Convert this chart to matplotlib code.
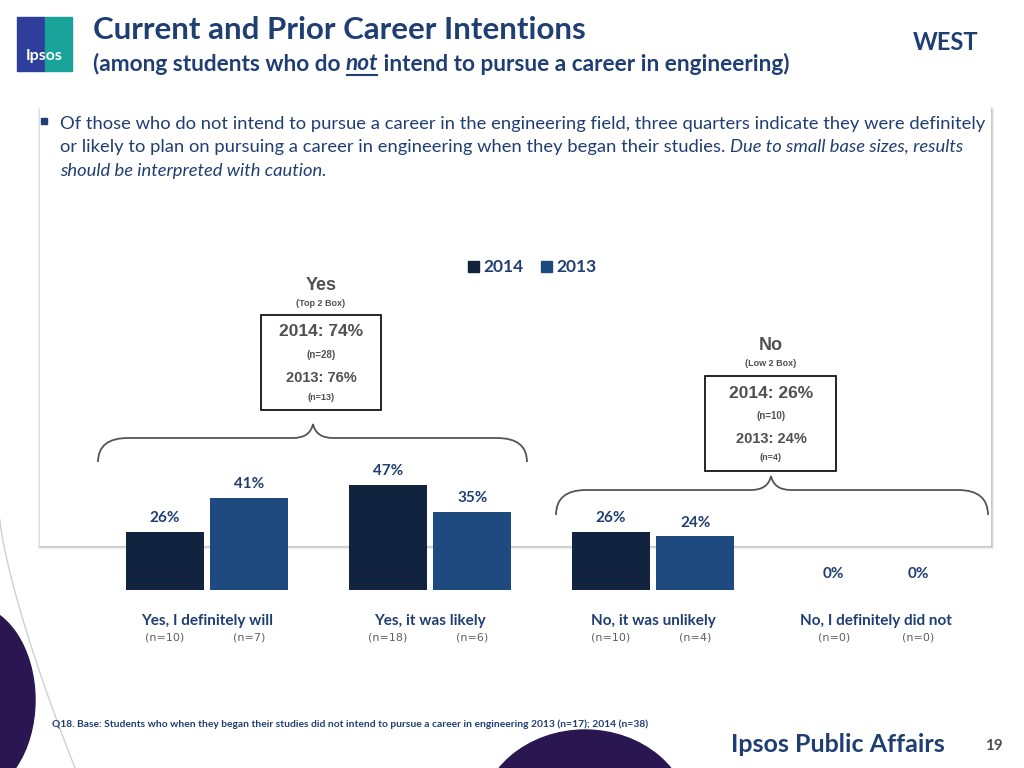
import matplotlib
matplotlib.use("Agg")
import matplotlib.pyplot as plt
from matplotlib.path import Path
from matplotlib.patches import PathPatch, Rectangle, Ellipse

categories = ["Yes, I definitely will", "Yes, it was likely", "No, it was unlikely", "No, I definitely did not"]
vals_2014 = [26, 47, 26, 0]
vals_2013 = [41, 35, 24, 0]
n_2014 = ["(n=10)", "(n=18)", "(n=10)", "(n=0)"]
n_2013 = ["(n=7)", "(n=6)", "(n=4)", "(n=0)"]
c2014 = "#12233f"
c2013 = "#1f4a7f"
navy = "#1f3f73"

plt.rcParams['font.family'] = ['Lato', 'DejaVu Sans']
fig = plt.figure(figsize=(10.24, 7.68), dpi=100)

bg = fig.add_axes([0, 0, 1, 1])
bg.set_xlim(0, 1024)
bg.set_ylim(768, 0)
bg.axis("off")

def run(x, y, parts, **kw):
    # draw text pieces one after another on a line, return their x spans
    fig.canvas.draw()
    r = fig.canvas.get_renderer()
    spans = []
    for s, extra in parts:
        t = bg.text(x, y, s, va="center", **kw, **extra)
        wdt = t.get_window_extent(r).width
        spans.append((x, x + wdt))
        x += wdt
    return spans

# decorative shapes
bg.add_patch(Ellipse((-30, 700), 130, 190, color="#2a1650", zorder=0))
bg.add_patch(Ellipse((585, 820), 210, 180, color="#2a1650", zorder=0))
t = [i / 50 for i in range(51)]
bg.plot([0 + 75 * s ** 1.3 for s in t], [520 + 248 * s for s in t], color="#d0d0d0", lw=1, zorder=0)

# white panel with soft shadow
for k, a in [(4, 0.15), (3, 0.2), (2, 0.3)]:
    bg.add_patch(Rectangle((40 - k + 2, 105 + k), 950 + 2 * k - 2, 440, color="#888888", alpha=a, lw=0, zorder=1))
bg.add_patch(Rectangle((40, 105), 950, 440, color="white", zorder=2))

# logo
bg.add_patch(Rectangle((17, 17), 28, 54, color="#2e3e9a", zorder=3))
bg.add_patch(Rectangle((45, 17), 27, 54, color="#1aa39a", zorder=3))
bg.text(44, 56, "Ipsos", color="white", fontsize=11.5, fontweight="bold", ha="center", va="center", zorder=4)

bg.text(93, 30, "Current and Prior Career Intentions", color=navy, fontsize=22.5, fontweight="bold", va="center")
sub = dict(color=navy, fontsize=16.3, fontweight="bold")
spans = run(93, 64, [("(among students who do ", {}), ("not", dict(fontstyle="italic")),
                     (" intend to pursue a career in engineering)", {})], **sub)
bg.plot([spans[1][0] + 1, spans[1][1] - 1], [75, 75], color=navy, lw=1.5)
bg.text(978, 42, "WEST", color=navy, fontsize=17, fontweight="bold", ha="right", va="center")

body = dict(color=navy, fontsize=13.2, zorder=3)
bg.add_patch(Rectangle((41, 118), 6, 6, color=navy, zorder=3))
bg.text(60, 124, "Of those who do not intend to pursue a career in the engineering field, three quarters indicate they were definitely",
        va="center", **body)
run(60, 147, [("or likely to plan on pursuing a career in engineering when they began their studies. ", {}),
              ("Due to small base sizes, results", dict(fontstyle="italic"))], **body)
bg.text(60, 171, "should be interpreted with caution.", fontstyle="italic", va="center", **body)

# legend
bg.add_patch(Rectangle((468, 261), 11, 11, color=c2014, zorder=3))
bg.text(483, 267, "2014", color=navy, fontsize=12.5, fontweight="bold", va="center", zorder=3)
bg.add_patch(Rectangle((541, 261), 11, 11, color=c2013, zorder=3))
bg.text(556, 267, "2013", color=navy, fontsize=12.5, fontweight="bold", va="center", zorder=3)

gray = "#505050"
def summary(cx, title, sub, top, box, l1, n1, l2, n2):
    kw = dict(color=gray, fontweight="bold", ha="center", va="center", family="Liberation Sans", zorder=3)
    bg.text(cx, top, title, fontsize=13, **kw)
    bg.text(cx, top + 17, sub, fontsize=6.5, **kw)
    x0, y0, w, h = box
    bg.add_patch(Rectangle((x0, y0), w, h, fill=False, ec="black", lw=1.2, zorder=3))
    bg.text(cx, y0 + 17, l1, fontsize=12.5, **kw)
    bg.text(cx, y0 + 40, n1, fontsize=7, **kw)
    bg.text(cx, y0 + 63, l2, fontsize=10.5, **kw)
    bg.text(cx, y0 + 82, n2, fontsize=6.5, **kw)

summary(321, "Yes", "(Top 2 Box)", 286, (261, 315, 120, 95), "2014: 74%", "(n=28)", "2013: 76%", "(n=13)")
summary(771, "No", "(Low 2 Box)", 346, (705, 376, 131, 95), "2014: 26%", "(n=10)", "2013: 24%", "(n=4)")

def brace(x0, x1, yend, yh, tipx, tipy):
    r = 30
    verts = [(x0, yend), (x0, yh), (x0 + r, yh), (tipx - 20, yh), (tipx - 3, yh), (tipx, tipy),
             (tipx + 3, yh), (tipx + 20, yh), (x1 - r, yh), (x1, yh), (x1, yend)]
    codes = [Path.MOVETO, Path.CURVE3, Path.CURVE3, Path.LINETO, Path.CURVE3, Path.CURVE3,
             Path.CURVE3, Path.CURVE3, Path.LINETO, Path.CURVE3, Path.CURVE3]
    bg.add_patch(PathPatch(Path(verts, codes), fill=False, ec="#555555", lw=1.3, zorder=3))

brace(98, 527, 462, 438, 313, 424)
brace(556, 988, 515, 490, 771, 476)

bg.text(52, 724, "Q18. Base: Students who when they began their studies did not intend to pursue a career in engineering 2013 (n=17); 2014 (n=38)",
        color=navy, fontsize=7.4, fontweight="bold", va="center", zorder=3)
bg.text(945, 745, "Ipsos Public Affairs", color=navy, fontsize=18, fontweight="bold", ha="right", va="center",
        family=["Liberation Sans Narrow", "Lato"], zorder=3)
bg.text(1003, 746, "19", color=gray, fontsize=11, fontweight="bold", ha="right", va="center", zorder=3)

# bar chart
ax = fig.add_axes([95.5 / 1024, (768 - 590) / 768, 892 / 1024, 112 / 768])
ax.set_xlim(-0.5, 3.5)
ax.set_ylim(0, 50)
ax.axis("off")
ax.patch.set_alpha(0)
xs = list(range(len(categories)))
w = 0.35
ax.bar([x - 0.19 for x in xs], vals_2014, w, color=c2014, zorder=3)
ax.bar([x + 0.19 for x in xs], vals_2013, w, color=c2013, zorder=3)
for x, a, b in zip(xs, vals_2014, vals_2013):
    ax.text(x - 0.19, a + 3 if a else 4, f"{a}%", color=navy, fontsize=11, fontweight="bold", ha="center", va="bottom")
    ax.text(x + 0.19, b + 3 if b else 4, f"{b}%", color=navy, fontsize=11, fontweight="bold", ha="center", va="bottom")
nkw = dict(color="#606060", fontsize=8, ha="center", va="center", family=["Liberation Sans Narrow", "DejaVu Sans"])
for x, c, n1, n2 in zip(xs, categories, n_2014, n_2013):
    ax.text(x, -14, c, color=navy, fontsize=11, fontweight="bold", ha="center", va="center")
    ax.text(x - 0.19, -21, n1, **nkw)
    ax.text(x + 0.19, -21, n2, **nkw)

fig.savefig("out.png", dpi=100)
